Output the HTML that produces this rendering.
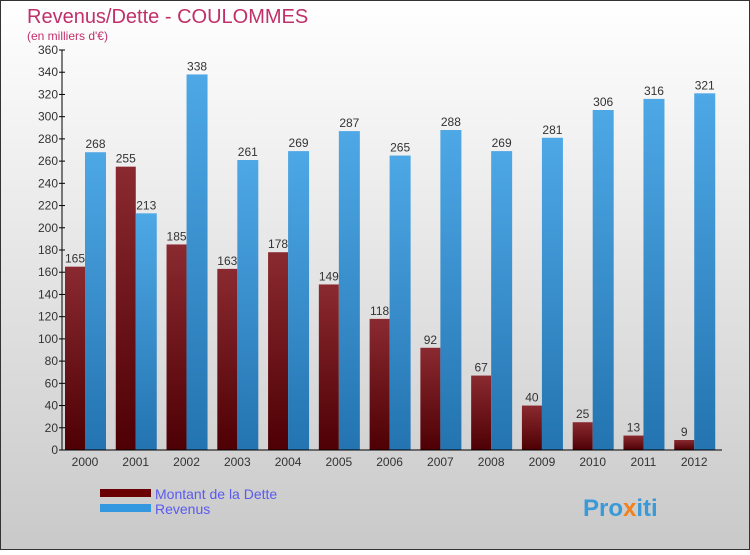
<!DOCTYPE html>
<html><head><meta charset="utf-8"><style>
html,body{margin:0;padding:0}
body{width:750px;height:550px;overflow:hidden;font-family:"Liberation Sans",sans-serif}
</style></head><body>
<svg width="750" height="550" xmlns="http://www.w3.org/2000/svg">
<defs>
<linearGradient id="bg" x1="0" y1="0" x2="0" y2="1"><stop offset="0" stop-color="#ffffff"/><stop offset="1" stop-color="#c9c9c9"/></linearGradient>
<linearGradient id="gd" x1="0" y1="0" x2="0" y2="1"><stop offset="0" stop-color="#8a2a30"/><stop offset="1" stop-color="#4e0004"/></linearGradient>
<linearGradient id="gr" x1="0" y1="0" x2="0" y2="1"><stop offset="0" stop-color="#4ea8e6"/><stop offset="1" stop-color="#2374b0"/></linearGradient>
</defs>
<rect x="0.5" y="0.5" width="749" height="549" fill="url(#bg)" stroke="#333"/>
<text x="27" y="23" font-size="20" fill="#c0306a">Revenus/Dette - COULOMMES</text>
<text x="27" y="40" font-size="12" fill="#c0306a">(en milliers d'€)</text>
<g id="plot"></g>
<rect x="100" y="489" width="51" height="8" fill="#6a0004"/>
<text x="155" y="499" font-size="14" fill="#5a5af0">Montant de la Dette</text>
<rect x="100" y="504" width="51" height="8" fill="#3398e0"/>
<text x="155" y="514" font-size="14" fill="#5a5af0">Revenus</text>
<text x="583" y="516" font-size="24" font-weight="bold" fill="#3a9ad8">Pro<tspan fill="#f08020">x</tspan>iti</text>
</svg>
<script>
const years=["2000","2001","2002","2003","2004","2005","2006","2007","2008","2009","2010","2011","2012"];
const dette=[165,255,185,163,178,149,118,92,67,40,25,13,9];
const revenus=[268,213,338,261,269,287,265,288,269,281,306,316,321];
const yTicks=[0,20,40,60,80,100,120,140,160,180,200,220,240,260,280,300,320,340,360];
const NS="http://www.w3.org/2000/svg";
const x0=62,x1=722,y0=450,y1=50,yMax=360;
const gw=(x1-x0)/years.length;
const y=v=>y0-(v/yMax)*(y0-y1);
const g=document.getElementById('plot');
function mk(t,a){const e=document.createElementNS(NS,t);for(const k in a)e.setAttribute(k,a[k]);g.appendChild(e);return e;}
yTicks.forEach(v=>{
 const l=mk('line',{x1:x0-3,x2:x0+3,y1:y(v),y2:y(v),stroke:'#000'});
 
 
 const t=mk('text',{x:x0-4,y:y(v)+4,'font-size':12,'text-anchor':'end',fill:'#333'});
 t.textContent=v;
 
 
});
years.forEach((yr,i)=>{
 const s=x0+i*gw;
 const b1=mk('rect',{x:s+3,y:y(dette[i]),width:20,height:y0-y(dette[i]),fill:'url(#gd)'});
 
 
 const b2=mk('rect',{x:s+23,y:y(revenus[i]),width:21,height:y0-y(revenus[i]),fill:'url(#gr)'});
 
 
 const t1=mk('text',{x:s+13,y:y(dette[i])-4,'font-size':12,'text-anchor':'middle',fill:'#333'});
 t1.textContent=dette[i];
 
 
 const t2=mk('text',{x:s+33.5,y:y(revenus[i])-4,'font-size':12,'text-anchor':'middle',fill:'#333'});
 t2.textContent=revenus[i];
 
 
 const xl=mk('text',{x:s+23,y:466,'font-size':12,'text-anchor':'middle',fill:'#333'});
 xl.textContent=yr;
 
 
});
const ya=mk('line',{x1:x0,x2:x0,y1:y1,y2:y0,stroke:'#000'});


const xa=mk('line',{x1:x0,x2:x1,y1:y0,y2:y0,stroke:'#000'});


</script>
</body></html>
